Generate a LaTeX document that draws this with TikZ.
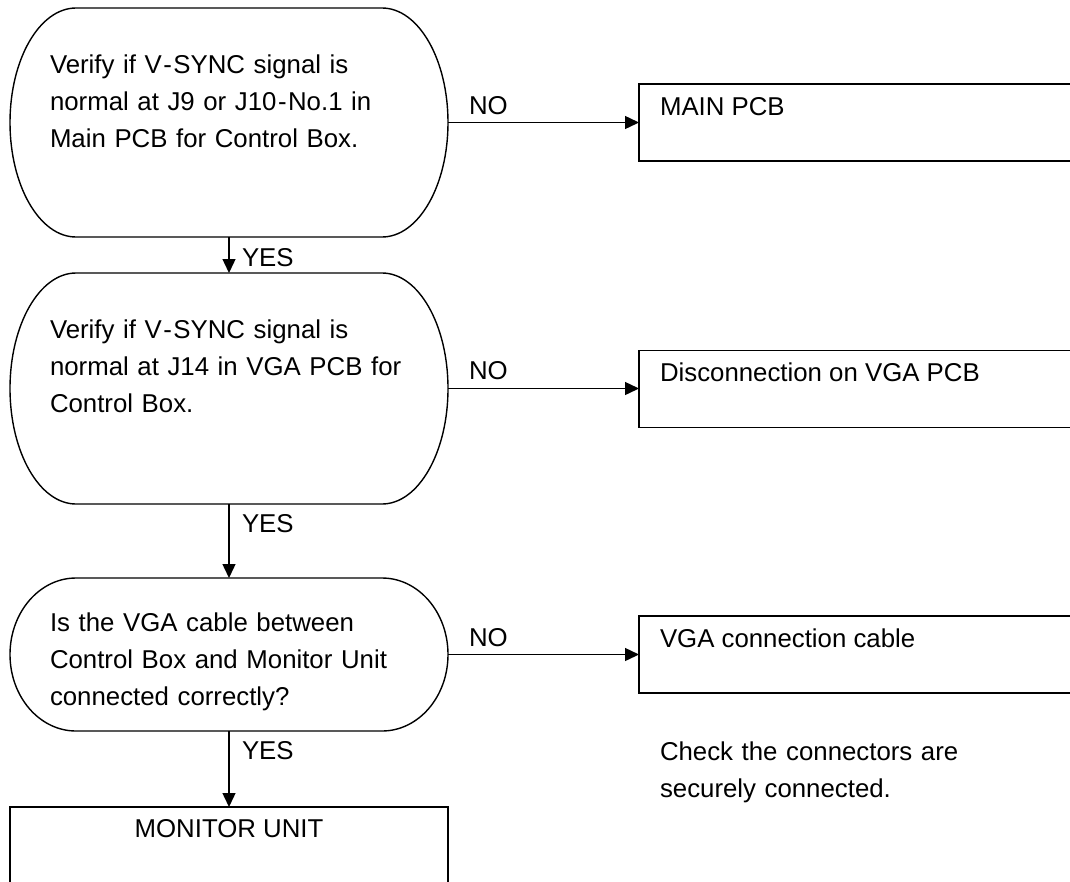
\documentclass[tikz,border=0pt]{standalone}
\usepackage{fontspec}
\setmainfont{Liberation Sans}
\usetikzlibrary{arrows.meta,calc}
\tikzset{
  every node/.style={inner sep=0pt, outer sep=0pt},
  txt/.style={font=\fontsize{25.8}{37.2}\selectfont, anchor=base west, align=left, text width=420pt},
  lbl/.style={font=\fontsize{25.8}{37.2}\selectfont, anchor=base west},
  frame/.style={draw=none, anchor=north west, minimum width=438pt},
  boxr/.style={draw, anchor=north west, minimum width=470pt, minimum height=77pt},
  conn/.style={-{Triangle[length=14pt,width=13pt]}},
}
\newcommand{\hy}{\kern1.5pt-\kern1.5pt}
\begin{document}
\begin{tikzpicture}[x=1pt,y=-1pt,line width=1.4pt]
\useasboundingbox (0,0) rectangle (1070,881);
\clip (0,0) rectangle (1070,881);
% decision frames (outline drawn below)
\node[frame, minimum height=229pt] (q1) at (10,8) {};
\node[frame, minimum height=231pt] (q2) at (10,273) {};
\node[frame, minimum height=153pt] (q3) at (10,578) {};
\foreach \nm in {q1,q2,q3}{
  \draw let \p1=(\nm.north west), \p2=(\nm.south east), \n1={(\y1-\y2)/2} in
    (\x1+66pt,\y1) -- (\x2-66pt,\y1)
    arc[start angle=90, end angle=-90, x radius=66pt, y radius=\n1]
    -- (\x1+66pt,\y2)
    arc[start angle=270, end angle=90, x radius=66pt, y radius=\n1] -- cycle;
}
\node[txt] (t1) at (50,73) {Verify if V\hy SYNC signal is\\normal at J9 or J10\hy No.1 in\\Main PCB for Control Box.};
\node[txt] (t2) at (50,338) {Verify if V\hy SYNC signal is\\normal at J14 in VGA PCB for\\Control Box.};
\node[txt] (t3) at (50,631) {Is the VGA cable between\\Control Box and Monitor Unit\\connected correctly?};
% result boxes
\node[boxr] (r1) at (639,84) {};
\node[boxr] (r2) at (639,350.5) {};
\node[boxr] (r3) at (639,616) {};
\node[lbl] (rt1) at (660,115) {MAIN PCB};
\node[lbl] (rt2) at (660,381) {Disconnection on VGA PCB};
\node[lbl] (rt3) at (660,647) {VGA connection cable};
\node[draw, anchor=north west, minimum width=438pt, minimum height=120pt] (mu) at (10,807) {};
\node[lbl, anchor=base] (mut) at (229,837) {MONITOR UNIT};
\node[txt] (note) at (660,760) {Check the connectors are\\securely connected.};
% connectors
\draw[conn] (q1.south) -- (q2.north);
\draw[conn] (q2.south) -- (q3.north);
\draw[conn] (q3.south) -- (mu.north);
\draw[conn] (q1.east) -- (q1.east -| r1.west);
\draw[conn] (q2.east) -- (q2.east -| r2.west);
\draw[conn] (q3.east) -- (q3.east -| r3.west);
% labels
\node[lbl] (y1) at (242,266) {YES};
\node[lbl] (y2) at (242,532) {YES};
\node[lbl] (y3) at (242,759) {YES};
\node[lbl] (n1) at (469,114) {NO};
\node[lbl] (n2) at (469,379) {NO};
\node[lbl] (n3) at (469,646) {NO};
\end{tikzpicture}
\end{document}
